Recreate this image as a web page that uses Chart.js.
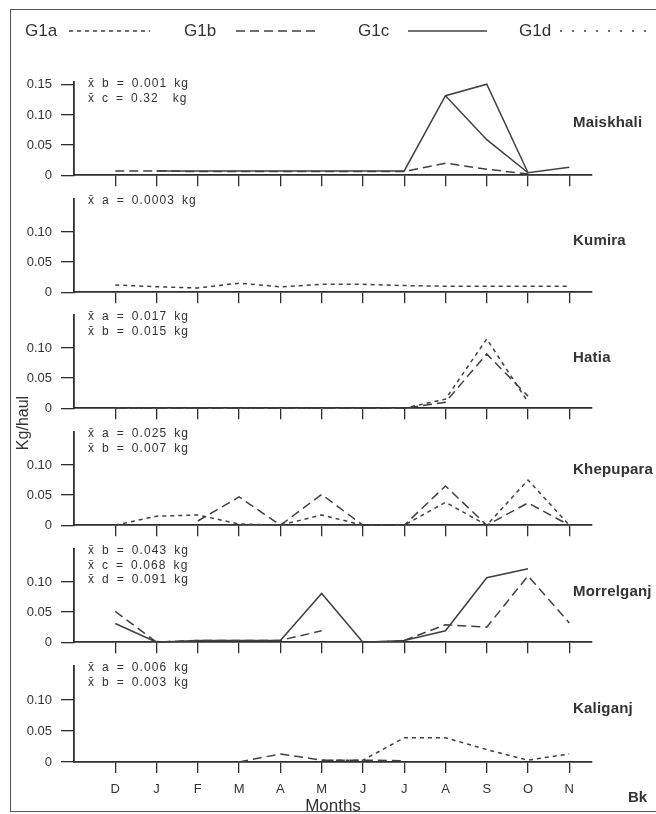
<!DOCTYPE html>
<html>
<head>
<meta charset="utf-8">
<title>Kg/haul by month</title>
<script src="https://cdn.jsdelivr.net/npm/chart.js@4.4.1/dist/chart.umd.min.js"></script>
<style>
  html, body { margin: 0; padding: 0; background: #fff; }
  #fig { position: relative; width: 656px; height: 814px; overflow: hidden; background: #fff;
         font-family: "Liberation Sans", Arial, sans-serif; color: #333; }
  #frame { position: absolute; left: 10px; top: 9px; width: 680px; height: 803px;
           border: 1.5px solid #555; box-sizing: border-box; }
  .panel { position: absolute; left: 0; }
  .key { position: absolute; top: 21px; font-size: 17px; line-height: 20px; }
  .key-line { position: absolute; top: 21px; }
  .stats { position: absolute; left: 88px; font-size: 12px; line-height: 14.5px;
           letter-spacing: 1.1px; word-spacing: 2.5px; white-space: pre; }
  .station { position: absolute; left: 573px; font-size: 15px; font-weight: bold;
             line-height: 18px; letter-spacing: 0.2px; white-space: nowrap; }
  #ytitle { position: absolute; left: 23px; top: 423px; font-size: 16px; white-space: nowrap;
            transform: translate(-50%, -50%) rotate(-90deg); }
  #bk { position: absolute; left: 628px; top: 788px; font-size: 15px; font-weight: bold; }
</style>
</head>
<body>
<div id="fig">
  <div id="frame"></div>
  <div id="ytitle">Kg/haul</div>
  <div id="bk">Bk</div>
</div>
<script>
const FONT = '"Liberation Sans", Arial, sans-serif';

const months = ['D', 'J', 'F', 'M', 'A', 'M', 'J', 'J', 'A', 'S', 'O', 'N'];
const groups = ['G1a', 'G1b', 'G1c', 'G1d'];

// Maiskhali
const maiskhaliB  = [0.007, 0.007, 0.006, 0.006, 0.006, 0.006, 0.006, 0.006, 0.020, 0.010, 0.002, null];
const maiskhaliC  = [null, 0.007, 0.007, 0.007, 0.007, 0.007, 0.007, 0.007, 0.132, 0.151, 0.004, 0.013];
const maiskhaliC2 = [null, null, null, null, null, null, null, null, 0.132, 0.059, 0.004, null];
const maiskhaliStats = ['x̄ b = 0.001 kg', 'x̄ c = 0.32  kg'];

// Kumira
const kumiraA = [0.012, 0.009, 0.007, 0.015, 0.009, 0.013, 0.013, 0.011, 0.010, 0.010, 0.010, 0.010];
const kumiraStats = ['x̄ a = 0.0003 kg'];

// Hatia
const hatiaA = [0, 0, 0, 0, 0, 0, 0, 0, 0.015, 0.115, 0.010, null];
const hatiaB = [0, 0, 0, 0, 0, 0, 0, 0, 0.010, 0.090, 0.020, null];
const hatiaStats = ['x̄ a = 0.017 kg', 'x̄ b = 0.015 kg'];

// Khepupara
const khepuparaA = [0, 0.015, 0.017, 0.002, 0, 0.017, 0, 0, 0.038, 0, 0.075, 0];
const khepuparaB = [null, null, 0.007, 0.047, 0, 0.051, 0, 0, 0.065, 0, 0.037, 0];
const khepuparaStats = ['x̄ a = 0.025 kg', 'x̄ b = 0.007 kg'];

// Morrelganj
const morrelganjB = [0.051, 0, 0.003, 0.003, 0.003, 0.019, null, 0.003, 0.029, 0.025, 0.110, 0.032];
const morrelganjC = [0.031, 0, 0.003, 0.003, 0.003, 0.081, 0, 0.003, 0.019, 0.107, 0.122, null];
const morrelganjD = [null, 0.001, 0.002, 0.002, 0.002, null, 0, 0.002, null, null, null, null];
const morrelganjStats = ['x̄ b = 0.043 kg', 'x̄ c = 0.068 kg', 'x̄ d = 0.091 kg'];

// Kaliganj
const kaliganjA = [null, null, null, null, null, 0.003, 0.003, 0.039, 0.039, 0.020, 0.003, 0.013];
const kaliganjB = [null, null, null, 0, 0.013, 0.003, 0.003, 0.002, null, null, null, null];
const kaliganjStats = ['x̄ a = 0.006 kg', 'x̄ b = 0.003 kg'];

const yTicksTop = [0, 0.05, 0.10, 0.15];
const yTicks = [0, 0.05, 0.10];

// line pattern per group letter
const dashes = { a: [4, 4], b: [9, 5], c: [], d: [2, 10] };

const panels = [
  { name: 'Maiskhali',  zero: 178, nameY: 122, ticks: yTicksTop, stats: maiskhaliStats,
    series: [['b', maiskhaliB], ['c', maiskhaliC], ['c', maiskhaliC2]] },
  { name: 'Kumira',     zero: 295, nameY: 240, ticks: yTicks, stats: kumiraStats,
    series: [['a', kumiraA]] },
  { name: 'Hatia',      zero: 411, nameY: 357, ticks: yTicks, stats: hatiaStats,
    series: [['a', hatiaA], ['b', hatiaB]] },
  { name: 'Khepupara',  zero: 528, nameY: 469, ticks: yTicks, stats: khepuparaStats,
    series: [['a', khepuparaA], ['b', khepuparaB]] },
  { name: 'Morrelganj', zero: 645, nameY: 591, ticks: yTicks, stats: morrelganjStats,
    series: [['b', morrelganjB], ['c', morrelganjC], ['d', morrelganjD]] },
  { name: 'Kaliganj',   zero: 762, nameY: 708, ticks: yTicks, stats: kaliganjStats,
    series: [['a', kaliganjA], ['b', kaliganjB]] },
];

const AREA_H = 105;      // px for 0 .. 0.155
const PAD_TOP = 8;
const AXIS_LEFT = 74;
const CANVAS_W = 600;
const AXIS_RIGHT = 592;
const FIG_H = 814;
const LINE = '#404040';
const AXIS = '#2e2e2e';

const fig = document.getElementById('fig');

function addDiv(cls, text, style) {
  const el = document.createElement('div');
  el.className = cls;
  el.textContent = text;
  Object.assign(el.style, style);
  fig.appendChild(el);
  return el;
}

// legend row
const keySpots = [
  { text: 25, x1: 69, x2: 150 },
  { text: 184, x1: 236, x2: 320 },
  { text: 358, x1: 408, x2: 487 },
  { text: 519, x1: 560, x2: 646 },
];
groups.forEach((g, i) => {
  const k = keySpots[i];
  addDiv('key', g, { left: k.text + 'px' });
  const dash = dashes[g.slice(-1)].join(' ');
  const svg = `<svg width="${k.x2 - k.x1}" height="20"><line x1="0" y1="10" x2="${k.x2 - k.x1}" y2="10"
    stroke="${LINE}" stroke-width="1.5" stroke-dasharray="${dash}"/></svg>`;
  const holder = addDiv('key-line', '', { left: k.x1 + 'px' });
  holder.innerHTML = svg;
});

function makePanel(p, idx) {
  const last = idx === panels.length - 1;
  const top = p.zero - AREA_H - PAD_TOP;
  const height = last ? FIG_H - top : AREA_H + PAD_TOP + 14;

  const wrap = document.createElement('div');
  wrap.className = 'panel';
  wrap.style.top = top + 'px';
  wrap.style.width = CANVAS_W + 'px';
  wrap.style.height = height + 'px';
  const canvas = document.createElement('canvas');
  canvas.width = CANVAS_W;
  canvas.height = height;
  wrap.appendChild(canvas);
  fig.insertBefore(wrap, fig.firstChild.nextSibling);

  new Chart(canvas, {
    type: 'line',
    data: {
      datasets: p.series.map(([kind, values]) => ({
        label: 'G1' + kind,
        data: values.map((v, i) => ({ x: i, y: v })),
        borderColor: LINE,
        borderWidth: 1.5,
        borderDash: dashes[kind],
        pointRadius: 0,
        tension: 0,
        fill: false,
        spanGaps: false,
        clip: false,
      })),
    },
    options: {
      responsive: false,
      animation: false,
      events: [],
      layout: { padding: { top: PAD_TOP, right: CANVAS_W - AXIS_RIGHT, left: 0, bottom: 0 } },
      plugins: { legend: { display: false }, tooltip: { enabled: false } },
      scales: {
        x: {
          type: 'linear',
          min: -1,
          max: 11.55,
          afterBuildTicks: s => { s.ticks = months.map((m, i) => ({ value: i })); },
          afterFit: s => { s.height = height - PAD_TOP - AREA_H; },
          grid: { drawOnChartArea: false, drawTicks: true, tickLength: 11, color: AXIS, lineWidth: 1.3 },
          border: { display: true, color: AXIS, width: 1.8 },
          ticks: {
            display: last,
            autoSkip: false,
            maxRotation: 0,
            padding: 9,
            color: '#333',
            font: { family: FONT, size: 13 },
            callback: v => months[v],
          },
          title: {
            display: last,
            text: 'Months',
            color: '#333',
            font: { family: FONT, size: 17, lineHeight: 1 },
            padding: { top: 0, bottom: -1 },
          },
        },
        y: {
          min: 0,
          max: 0.155,
          afterBuildTicks: s => { s.ticks = p.ticks.map(v => ({ value: v })); },
          afterFit: s => { s.width = AXIS_LEFT; },
          grid: { drawOnChartArea: false, drawTicks: true, tickLength: 13, color: AXIS, lineWidth: 1.3 },
          border: { display: true, color: AXIS, width: 1.8 },
          ticks: {
            padding: 9,
            color: '#333',
            font: { family: FONT, size: 13 },
            callback: v => (v === 0 ? '0' : v.toFixed(2)),
          },
        },
      },
    },
  });

  addDiv('stats', p.stats.join('\n'), { top: (p.zero - 102) + 'px' });
  addDiv('station', p.name, { top: (p.nameY - 9) + 'px' });
}

panels.forEach(makePanel);
</script>
</body>
</html>
